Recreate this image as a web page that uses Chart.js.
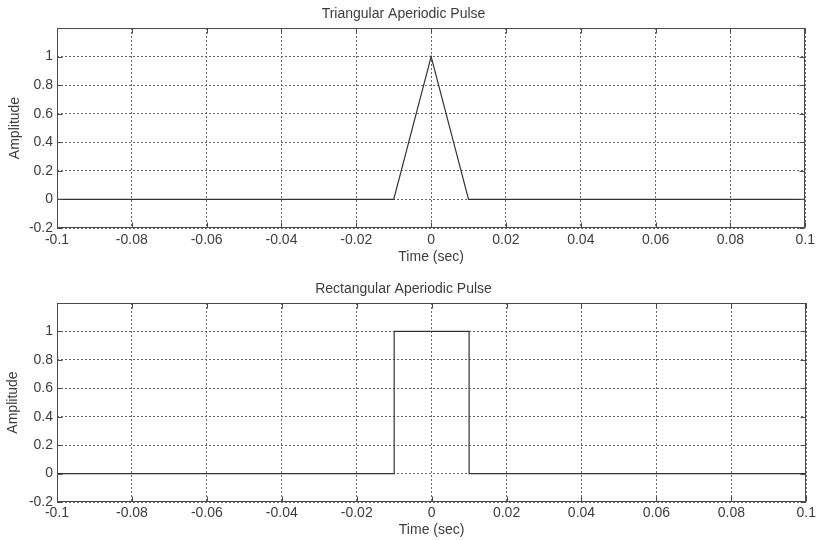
<!DOCTYPE html>
<html>
<head>
<meta charset="utf-8">
<script src="https://cdn.jsdelivr.net/npm/chart.js@4.4.0/dist/chart.umd.min.js"></script>
<style>
    html, body { margin: 0; padding: 0; background: #fff; }
    canvas { display: block; }
</style>
</head>
<body>
<canvas id="triChart" width="819" height="270"></canvas>
<canvas id="rectChart" width="819" height="270"></canvas>
<script>
// pulse data (time in sec, amplitude)
const triTime = [-0.1, -0.01, 0, 0.01, 0.1];
const triAmp = [0, 0, 1, 0, 0];
const rectTime = [-0.1, -0.01, -0.01, 0.01, 0.01, 0.1];
const rectAmp = [0, 0, 1, 1, 0, 0];

const xTicks = [-0.1, -0.08, -0.06, -0.04, -0.02, 0, 0.02, 0.04, 0.06, 0.08, 0.1];
const xTickLabels = ['-0.1', '-0.08', '-0.06', '-0.04', '-0.02', '0', '0.02', '0.04', '0.06', '0.08', '0.1'];
const yTicks = [-0.2, 0, 0.2, 0.4, 0.6, 0.8, 1, 1.2];
const yTickLabels = ['-0.2', '0', '0.2', '0.4', '0.6', '0.8', '1', ''];

const FONT = "'Liberation Sans', Arial, sans-serif";
const TEXT = '#3c3c3c';
const AXIS = '#4a4a4a';

// matlab-ish box with inward tick marks
const framePlugin = {
    id: 'frame',
    afterDatasetsDraw(chart) {
        const { ctx, chartArea: a, scales } = chart;
        const L = Math.round(a.left) + 0.5, R = Math.round(a.right) - 0.5;
        const T = Math.round(a.top) + 0.5, B = Math.round(a.bottom) - 0.5;
        ctx.save();
        ctx.strokeStyle = AXIS;
        ctx.lineWidth = 1;
        ctx.strokeRect(L, T, R - L, B - T);
        ctx.beginPath();
        scales.x.ticks.forEach(t => {
            const px = Math.round(scales.x.getPixelForValue(t.value)) + 0.5;
            ctx.moveTo(px, T); ctx.lineTo(px, T + 5);
            ctx.moveTo(px, B); ctx.lineTo(px, B - 5);
        });
        scales.y.ticks.forEach(t => {
            const py = Math.round(scales.y.getPixelForValue(t.value)) + 0.5;
            ctx.moveTo(L, py); ctx.lineTo(L + 5, py);
            ctx.moveTo(R, py); ctx.lineTo(R - 5, py);
        });
        ctx.stroke();
        ctx.restore();
    }
};

function makeChart(id, title, xs, ys, opt) {
    const ctx = document.getElementById(id).getContext('2d');
    return new Chart(ctx, {
        type: 'line',
        data: {
            datasets: [{
                data: xs.map((x, i) => ({ x: x, y: ys[i] })),
                borderColor: '#333',
                borderWidth: 1.2,
                fill: false,
                tension: 0,
                pointRadius: 0
            }]
        },
        options: {
            responsive: false,
            animation: false,
            layout: { padding: { left: 0, right: 12, top: 0, bottom: 0 } },
            plugins: {
                legend: { display: false },
                tooltip: { enabled: false },
                title: {
                    display: true,
                    text: title,
                    color: TEXT,
                    font: { family: FONT, size: 14, weight: 'normal' },
                    padding: { top: opt.titleTop, bottom: opt.titleBottom }
                }
            },
            scales: {
                x: {
                    type: 'linear',
                    min: -0.1,
                    max: 0.1,
                    afterBuildTicks: s => { s.ticks = xTicks.map(v => ({ value: v })); },
                    afterFit: s => { s.height = opt.xHeight; },
                    ticks: {
                        autoSkip: false,
                        maxRotation: 0,
                        padding: opt.xTickPad,
                        color: TEXT,
                        font: { family: FONT, size: 14 },
                        callback: (v, i) => xTickLabels[i]
                    },
                    grid: { color: '#666', lineWidth: 1, drawTicks: false },
                    border: { display: false, dash: [2, 2] },
                    title: {
                        display: true,
                        text: 'Time (sec)',
                        color: TEXT,
                        font: { family: FONT, size: 14 },
                        padding: { top: 0, bottom: opt.xTitleBottom }
                    }
                },
                y: {
                    type: 'linear',
                    min: -0.2,
                    max: 1.2,
                    afterBuildTicks: s => { s.ticks = yTicks.map(v => ({ value: v })); },
                    afterFit: s => { s.width = 57; },
                    ticks: {
                        padding: 4,
                        color: TEXT,
                        font: { family: FONT, size: 14 },
                        callback: (v, i) => yTickLabels[i]
                    },
                    grid: { color: '#666', lineWidth: 1, drawTicks: false },
                    border: { display: false, dash: [2, 2] },
                    title: {
                        display: true,
                        text: 'Amplitude',
                        color: TEXT,
                        font: { family: FONT, size: 14 },
                        padding: { top: opt.yTitleTop, bottom: 0 }
                    }
                }
            }
        },
        plugins: [framePlugin]
    });
}

document.addEventListener('DOMContentLoaded', () => {
    makeChart('triChart', 'Triangular Aperiodic Pulse', triTime, triAmp,
        { titleTop: 5.6, titleBottom: 5.6, xHeight: 42, xTickPad: 4, xTitleBottom: 4.6, yTitleTop: 6.6 });
    makeChart('rectChart', 'Rectangular Aperiodic Pulse', rectTime, rectAmp,
        { titleTop: 10.6, titleBottom: 5.6, xHeight: 38, xTickPad: 3, xTitleBottom: 1.6, yTitleTop: 5 });
});
</script>
</body>
</html>
